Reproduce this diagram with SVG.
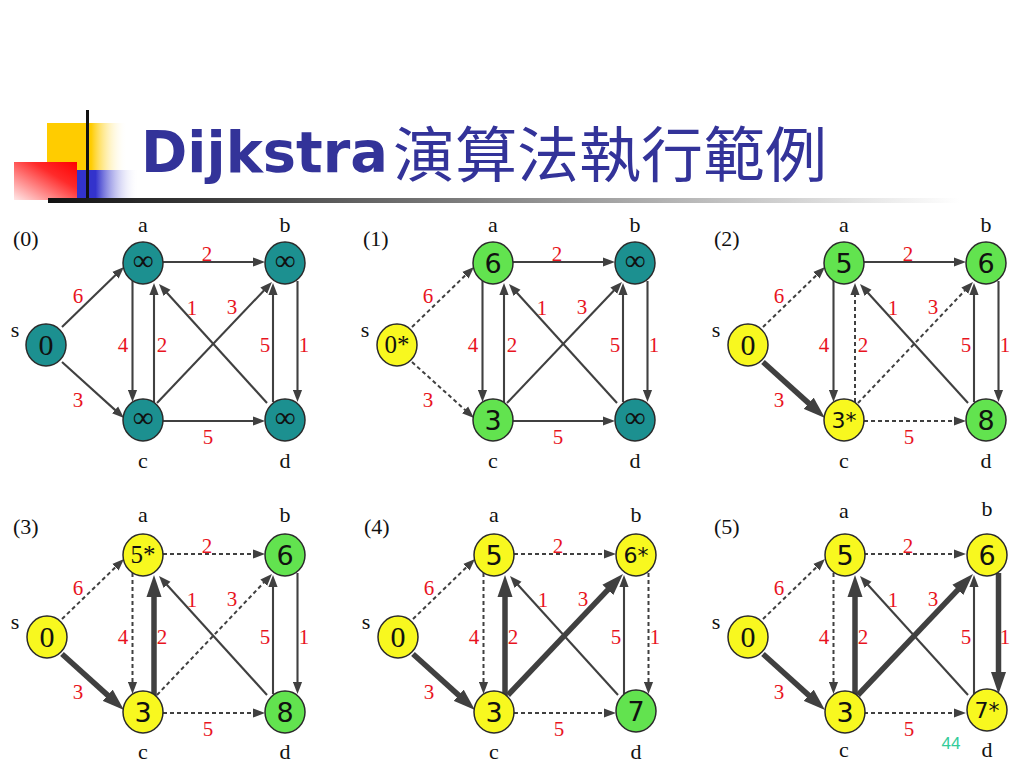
<svg xmlns="http://www.w3.org/2000/svg" width="1024" height="768" viewBox="0 0 1024 768">
<style>
.n ellipse{stroke:#2b2b2b;stroke-width:1.5}
.teal ellipse{fill:#1c9090}
.green ellipse{fill:#62e34f}
.yel ellipse{fill:#f8f81f}
.vs{font-family:"Liberation Serif",serif;font-size:30px;fill:#111;text-anchor:middle}
.vi{font-family:"Liberation Serif",serif;font-size:29px;fill:#111;text-anchor:middle}
.vn{font-family:"DejaVu Sans",sans-serif;font-size:27px;fill:#111;text-anchor:middle}
.vst{font-family:"DejaVu Sans",sans-serif;font-size:22px;fill:#111;text-anchor:middle}
.vss{font-family:"Liberation Serif",serif;font-size:25px;fill:#111;text-anchor:middle}
.lb{font-family:"Liberation Serif",serif;font-size:22px;fill:#111;text-anchor:middle}
.pl{font-family:"Liberation Serif",serif;font-size:22px;fill:#111}
.w{font-family:"Liberation Serif",serif;font-size:21px;fill:#e8141e;text-anchor:middle}
.e{stroke:#404040;stroke-width:2.1;fill:none;marker-end:url(#ah)}
.d{stroke:#404040;stroke-width:2;fill:none;stroke-dasharray:4 3;marker-end:url(#ah)}
.t{stroke:#404040;stroke-width:5.5;fill:none;marker-end:url(#ahT)}
</style>
<defs>
<marker id="ah" viewBox="0 -5 14 10" markerWidth="14" markerHeight="10" refX="1" refY="0" orient="auto" markerUnits="userSpaceOnUse"><path d="M0,-4.6 L12,0 L0,4.6 Z" fill="#404040"/></marker>
<marker id="ahT" viewBox="0 -8 23 16" markerWidth="23" markerHeight="16" refX="1" refY="0" orient="auto" markerUnits="userSpaceOnUse"><path d="M0,-7.5 L22,0 L0,7.5 Z" fill="#404040"/></marker>
<linearGradient id="gy" x1="0" y1="0" x2="1" y2="0"><stop offset="0" stop-color="#ffcc00"/><stop offset="0.55" stop-color="#ffcc00"/><stop offset="1" stop-color="#ffffff" stop-opacity="0"/></linearGradient>
<linearGradient id="gb" x1="0" y1="0" x2="1" y2="0"><stop offset="0" stop-color="#3333cc"/><stop offset="0.3" stop-color="#3333cc"/><stop offset="1" stop-color="#ffffff" stop-opacity="0"/></linearGradient>
<linearGradient id="gr" x1="1" y1="0" x2="0" y2="1"><stop offset="0" stop-color="#ff0000"/><stop offset="0.35" stop-color="#ff2a2a"/><stop offset="1" stop-color="#ffe8e8"/></linearGradient>
<linearGradient id="gl" x1="0" y1="0" x2="1" y2="0"><stop offset="0" stop-color="#111111"/><stop offset="1" stop-color="#ffffff"/></linearGradient>
</defs>
<rect width="1024" height="768" fill="#ffffff"/>
<g id="logo">
<rect x="47" y="123" width="80" height="47" fill="url(#gy)"/>
<rect x="77" y="170" width="62" height="29" fill="url(#gb)"/>
<rect x="14" y="162" width="63" height="38" fill="url(#gr)"/>
<rect x="86" y="110" width="3" height="90" fill="#111"/>
<rect x="48" y="198" width="912" height="5" fill="url(#gl)"/>
</g>
<g id="title">
<text x="141" y="172" font-family="DejaVu Sans, sans-serif" font-weight="bold" font-size="57" fill="#333399" textLength="247" lengthAdjust="spacingAndGlyphs">Dijkstra</text>
<text x="393" y="177" font-family="Noto Sans CJK TC, sans-serif" font-size="60" fill="#333399" textLength="434" lengthAdjust="spacingAndGlyphs">演算法執行範例</text>
</g>

<!-- Panel 0 -->
<g id="panel0">
<text class="pl" x="13" y="246">(0)</text>
<g id="p0-edges">
<line class="e" x1="62" y1="327" x2="116.1" y2="274.6"/>
<line class="e" x1="62" y1="362" x2="115.8" y2="410.6"/>
<line class="e" x1="163" y1="262" x2="254" y2="262"/>
<line class="e" x1="163" y1="421" x2="254" y2="421"/>
<line class="e" x1="132.5" y1="281" x2="132.5" y2="391"/>
<line class="e" x1="154" y1="402" x2="154" y2="294"/>
<line class="e" x1="297.5" y1="281" x2="297.5" y2="391"/>
<line class="e" x1="273" y1="402" x2="273" y2="294"/>
<line class="e" x1="157" y1="403" x2="264.4" y2="290"/>
<line class="e" x1="267" y1="403" x2="166.4" y2="292.2"/>
<text class="w" x="78" y="303">6</text><text class="w" x="78" y="407">3</text><text class="w" x="207" y="261">2</text><text class="w" x="123" y="352">4</text><text class="w" x="162" y="352">2</text><text class="w" x="192" y="315">1</text><text class="w" x="232" y="314">3</text><text class="w" x="265" y="352">5</text><text class="w" x="304" y="352">1</text><text class="w" x="208" y="444">5</text>
</g>
<g id="p0-s" class="n teal"><text class="lb" x="15" y="337">s</text><ellipse cx="46" cy="345" rx="20" ry="21"/><text class="vs" x="46" y="355">0</text></g>
<g id="p0-a" class="n teal"><text class="lb" x="143" y="232">a</text><ellipse cx="143" cy="263" rx="20" ry="21"/><text class="vi" x="143" y="270">∞</text></g>
<g id="p0-b" class="n teal"><text class="lb" x="285" y="232">b</text><ellipse cx="285" cy="263" rx="20" ry="21"/><text class="vi" x="285" y="270">∞</text></g>
<g id="p0-c" class="n teal"><text class="lb" x="143" y="468">c</text><ellipse cx="143" cy="420" rx="20" ry="21"/><text class="vi" x="143" y="427">∞</text></g>
<g id="p0-d" class="n teal"><text class="lb" x="285" y="468">d</text><ellipse cx="285" cy="420" rx="20" ry="21"/><text class="vi" x="285" y="427">∞</text></g>
</g>

<!-- Panel 1 -->
<g id="panel1" transform="translate(350,0)">
<text class="pl" x="13" y="246">(1)</text>
<g id="p1-edges">
<line class="d" x1="62" y1="327" x2="116.1" y2="274.6"/>
<line class="d" x1="62" y1="362" x2="115.8" y2="410.6"/>
<line class="e" x1="163" y1="262" x2="254" y2="262"/>
<line class="e" x1="163" y1="421" x2="254" y2="421"/>
<line class="e" x1="132.5" y1="281" x2="132.5" y2="391"/>
<line class="e" x1="154" y1="402" x2="154" y2="294"/>
<line class="e" x1="297.5" y1="281" x2="297.5" y2="391"/>
<line class="e" x1="273" y1="402" x2="273" y2="294"/>
<line class="e" x1="157" y1="403" x2="264.4" y2="290"/>
<line class="e" x1="267" y1="403" x2="166.4" y2="292.2"/>
<text class="w" x="78" y="303">6</text><text class="w" x="78" y="407">3</text><text class="w" x="207" y="261">2</text><text class="w" x="123" y="352">4</text><text class="w" x="162" y="352">2</text><text class="w" x="192" y="315">1</text><text class="w" x="232" y="314">3</text><text class="w" x="265" y="352">5</text><text class="w" x="304" y="352">1</text><text class="w" x="208" y="444">5</text>
</g>
<g id="p1-s" class="n yel"><text class="lb" x="15" y="337">s</text><ellipse cx="47" cy="345" rx="20" ry="21"/><text class="vss" x="47" y="353">0*</text></g>
<g id="p1-a" class="n green"><text class="lb" x="143" y="232">a</text><ellipse cx="143" cy="263" rx="20" ry="21"/><text class="vn" x="143" y="273">6</text></g>
<g id="p1-b" class="n teal"><text class="lb" x="285" y="232">b</text><ellipse cx="285" cy="263" rx="20" ry="21"/><text class="vi" x="285" y="270">∞</text></g>
<g id="p1-c" class="n green"><text class="lb" x="143" y="468">c</text><ellipse cx="143" cy="420" rx="20" ry="21"/><text class="vn" x="143" y="430">3</text></g>
<g id="p1-d" class="n teal"><text class="lb" x="285" y="468">d</text><ellipse cx="285" cy="420" rx="20" ry="21"/><text class="vi" x="285" y="427">∞</text></g>
</g>

<!-- Panel 2 -->
<g id="panel2" transform="translate(701,0)">
<text class="pl" x="13" y="246">(2)</text>
<g id="p2-edges">
<line class="d" x1="62" y1="327" x2="116.1" y2="274.6"/>
<line class="t" x1="62" y1="362" x2="108.4" y2="403.9"/>
<line class="e" x1="163" y1="262" x2="254" y2="262"/>
<line class="d" x1="163" y1="421" x2="254" y2="421"/>
<line class="e" x1="132.5" y1="281" x2="132.5" y2="391"/>
<line class="d" x1="154" y1="402" x2="154" y2="294"/>
<line class="e" x1="297.5" y1="281" x2="297.5" y2="391"/>
<line class="e" x1="273" y1="402" x2="273" y2="294"/>
<line class="d" x1="157" y1="403" x2="264.4" y2="290"/>
<line class="e" x1="267" y1="403" x2="166.4" y2="292.2"/>
<text class="w" x="78" y="303">6</text><text class="w" x="78" y="407">3</text><text class="w" x="207" y="261">2</text><text class="w" x="123" y="352">4</text><text class="w" x="162" y="352">2</text><text class="w" x="192" y="315">1</text><text class="w" x="232" y="314">3</text><text class="w" x="265" y="352">5</text><text class="w" x="304" y="352">1</text><text class="w" x="208" y="444">5</text>
</g>
<g id="p2-s" class="n yel"><text class="lb" x="15" y="337">s</text><ellipse cx="47" cy="345" rx="20" ry="21"/><text class="vs" x="47" y="355">0</text></g>
<g id="p2-a" class="n green"><text class="lb" x="143" y="232">a</text><ellipse cx="143" cy="263" rx="20" ry="21"/><text class="vn" x="143" y="273">5</text></g>
<g id="p2-b" class="n green"><text class="lb" x="285" y="232">b</text><ellipse cx="285" cy="263" rx="20" ry="21"/><text class="vn" x="285" y="273">6</text></g>
<g id="p2-c" class="n yel"><text class="lb" x="143" y="468">c</text><ellipse cx="143" cy="420" rx="20" ry="21"/><text class="vst" x="143" y="428">3*</text></g>
<g id="p2-d" class="n green"><text class="lb" x="285" y="468">d</text><ellipse cx="285" cy="420" rx="20" ry="21"/><text class="vn" x="285" y="430">8</text></g>
</g>

<!-- Panel 3 -->
<g id="panel3" transform="translate(0,292)">
<text class="pl" x="13" y="242">(3)</text>
<g id="p3-edges">
<line class="d" x1="62" y1="327" x2="116.1" y2="274.6"/>
<line class="t" x1="62" y1="362" x2="108.4" y2="403.9"/>
<line class="d" x1="163" y1="262" x2="254" y2="262"/>
<line class="d" x1="163" y1="421" x2="254" y2="421"/>
<line class="d" x1="132.5" y1="281" x2="132.5" y2="391"/>
<line class="t" x1="154" y1="404" x2="154" y2="304"/>
<line class="e" x1="297.5" y1="281" x2="297.5" y2="391"/>
<line class="e" x1="273" y1="402" x2="273" y2="294"/>
<line class="d" x1="157" y1="403" x2="264.4" y2="290"/>
<line class="e" x1="267" y1="403" x2="166.4" y2="292.2"/>
<text class="w" x="78" y="303">6</text><text class="w" x="78" y="407">3</text><text class="w" x="207" y="261">2</text><text class="w" x="123" y="352">4</text><text class="w" x="162" y="352">2</text><text class="w" x="192" y="315">1</text><text class="w" x="232" y="314">3</text><text class="w" x="265" y="352">5</text><text class="w" x="304" y="352">1</text><text class="w" x="208" y="444">5</text>
</g>
<g id="p3-s" class="n yel"><text class="lb" x="15" y="337">s</text><ellipse cx="47" cy="345" rx="20" ry="21"/><text class="vs" x="47" y="355">0</text></g>
<g id="p3-a" class="n yel"><text class="lb" x="143" y="230">a</text><ellipse cx="143" cy="263" rx="20" ry="21"/><text class="vss" x="143" y="271">5*</text></g>
<g id="p3-b" class="n green"><text class="lb" x="285" y="230">b</text><ellipse cx="285" cy="263" rx="20" ry="21"/><text class="vn" x="285" y="273">6</text></g>
<g id="p3-c" class="n yel"><text class="lb" x="143" y="467">c</text><ellipse cx="143" cy="420" rx="20" ry="21"/><text class="vn" x="143" y="430">3</text></g>
<g id="p3-d" class="n green"><text class="lb" x="285" y="467">d</text><ellipse cx="285" cy="420" rx="20" ry="21"/><text class="vn" x="285" y="430">8</text></g>
</g>

<!-- Panel 4 -->
<g id="panel4" transform="translate(351,292)">
<text class="pl" x="13" y="242">(4)</text>
<g id="p4-edges">
<line class="d" x1="62" y1="327" x2="116.1" y2="274.6"/>
<line class="t" x1="62" y1="362" x2="108.4" y2="403.9"/>
<line class="d" x1="163" y1="262" x2="254" y2="262"/>
<line class="d" x1="163" y1="421" x2="254" y2="421"/>
<line class="d" x1="132.5" y1="281" x2="132.5" y2="391"/>
<line class="t" x1="154" y1="404" x2="154" y2="304"/>
<line class="d" x1="297.5" y1="281" x2="297.5" y2="391"/>
<line class="e" x1="273" y1="402" x2="273" y2="294"/>
<line class="t" x1="157" y1="403" x2="257.5" y2="297.2"/>
<line class="e" x1="267" y1="403" x2="166.4" y2="292.2"/>
<text class="w" x="78" y="303">6</text><text class="w" x="78" y="407">3</text><text class="w" x="207" y="261">2</text><text class="w" x="123" y="352">4</text><text class="w" x="162" y="352">2</text><text class="w" x="192" y="315">1</text><text class="w" x="232" y="314">3</text><text class="w" x="265" y="352">5</text><text class="w" x="304" y="352">1</text><text class="w" x="208" y="444">5</text>
</g>
<g id="p4-s" class="n yel"><text class="lb" x="15" y="337">s</text><ellipse cx="47" cy="345" rx="20" ry="21"/><text class="vs" x="47" y="355">0</text></g>
<g id="p4-a" class="n yel"><text class="lb" x="143" y="230">a</text><ellipse cx="143" cy="263" rx="20" ry="21"/><text class="vn" x="143" y="273">5</text></g>
<g id="p4-b" class="n yel"><text class="lb" x="285" y="230">b</text><ellipse cx="285" cy="263" rx="20" ry="21"/><text class="vst" x="285" y="271">6*</text></g>
<g id="p4-c" class="n yel"><text class="lb" x="143" y="467">c</text><ellipse cx="143" cy="420" rx="20" ry="21"/><text class="vn" x="143" y="430">3</text></g>
<g id="p4-d" class="n green"><text class="lb" x="285" y="467">d</text><ellipse cx="285" cy="419" rx="20" ry="21"/><text class="vn" x="285" y="429">7</text></g>
</g>

<!-- Panel 5 -->
<g id="panel5" transform="translate(701,292)">
<text class="pl" x="13" y="242">(5)</text>
<g id="p5-edges">
<line class="d" x1="62" y1="327" x2="116.1" y2="274.6"/>
<line class="t" x1="62" y1="362" x2="108.4" y2="403.9"/>
<line class="d" x1="163" y1="262" x2="254" y2="262"/>
<line class="d" x1="163" y1="421" x2="254" y2="421"/>
<line class="d" x1="132.5" y1="281" x2="132.5" y2="391"/>
<line class="t" x1="154" y1="404" x2="154" y2="304"/>
<line class="t" x1="297.5" y1="281" x2="297.5" y2="381"/>
<line class="e" x1="273" y1="402" x2="273" y2="294"/>
<line class="t" x1="157" y1="403" x2="257.5" y2="297.2"/>
<line class="e" x1="267" y1="403" x2="166.4" y2="292.2"/>
<text class="w" x="78" y="303">6</text><text class="w" x="78" y="407">3</text><text class="w" x="207" y="261">2</text><text class="w" x="123" y="352">4</text><text class="w" x="162" y="352">2</text><text class="w" x="192" y="315">1</text><text class="w" x="232" y="314">3</text><text class="w" x="265" y="352">5</text><text class="w" x="304" y="352">1</text><text class="w" x="208" y="444">5</text>
</g>
<g id="p5-s" class="n yel"><text class="lb" x="15" y="337">s</text><ellipse cx="47" cy="345" rx="20" ry="21"/><text class="vs" x="47" y="355">0</text></g>
<g id="p5-a" class="n yel"><text class="lb" x="143" y="226">a</text><ellipse cx="144" cy="263" rx="20" ry="21"/><text class="vn" x="144" y="273">5</text></g>
<g id="p5-b" class="n yel"><text class="lb" x="286" y="224">b</text><ellipse cx="286" cy="263" rx="20" ry="21"/><text class="vn" x="286" y="273">6</text></g>
<g id="p5-c" class="n yel"><text class="lb" x="143" y="465">c</text><ellipse cx="144" cy="420" rx="20" ry="21"/><text class="vn" x="144" y="430">3</text></g>
<g id="p5-d" class="n yel"><text class="lb" x="286" y="465">d</text><ellipse cx="286" cy="418" rx="20" ry="21"/><text class="vst" x="286" y="426">7*</text></g>
</g>

<text x="951" y="749" font-family="Liberation Sans, sans-serif" font-size="17" fill="#33cc99" text-anchor="middle">44</text>
</svg>
